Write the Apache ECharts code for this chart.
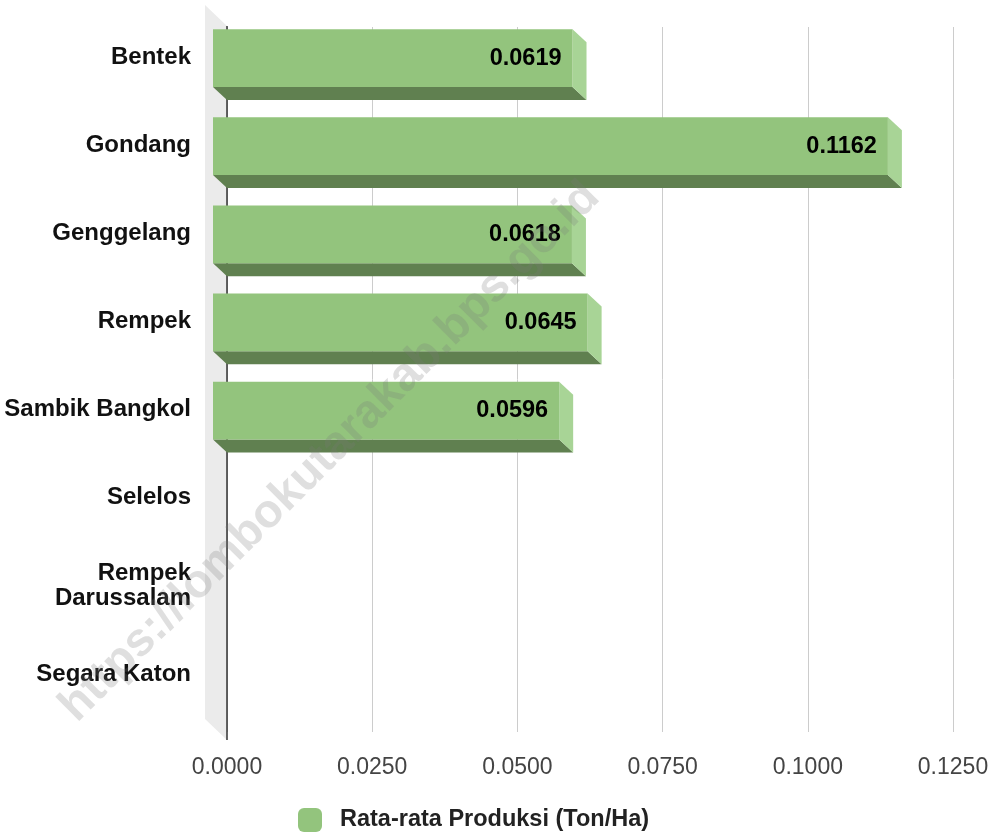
<!DOCTYPE html>
<html>
<head>
<meta charset="utf-8">
<script src="https://cdn.jsdelivr.net/npm/echarts@6/dist/echarts.min.js"></script>
<style>
  html, body { margin: 0; padding: 0; background: #fff; }
  #chart { width: 1000px; height: 833px; }
</style>
</head>
<body>
<div id="chart"></div>
<script>
const categories = ['Bentek', 'Gondang', 'Genggelang', 'Rempek', 'Sambik Bangkol', 'Selelos', 'Rempek Darussalam', 'Segara Katon']
const values = [0.0619, 0.1162, 0.0618, 0.0645, 0.0596, 0, 0, 0]
const seriesName = 'Rata-rata Produksi (Ton/Ha)'
const xTicks = { min: 0, max: 0.125, interval: 0.025 }

const FONT = '"Liberation Sans", Arial, sans-serif'
const DX = 14
const DY = 13
const WALL_DX = 22
const WALL_DY = 21
const WALL_EXTRA = 8

// long names go on two lines, like the original
function wrapName(name) {
  return name.length > 15 ? name.replace(' ', '\n') : name
}

function renderWall(params) {
  const cs = params.coordSys
  const x = cs.x
  const top = cs.y - 1
  const bottom = cs.y + cs.height + WALL_EXTRA
  return {
    type: 'group',
    silent: true,
    children: [
      {
        type: 'polygon',
        shape: { points: [[x - WALL_DX, top - WALL_DY], [x, top], [x, bottom], [x - WALL_DX, bottom - WALL_DY]] },
        style: { fill: '#ebebeb' }
      },
      {
        type: 'line',
        shape: { x1: x, y1: top, x2: x, y2: bottom },
        style: { stroke: '#333', lineWidth: 1.5 }
      }
    ]
  }
}

function renderBar(params, api) {
  const v = api.value(0)
  const idx = api.value(1)
  const base = api.coord([0, idx])
  const cs = params.coordSys
  const children = [
    {
      type: 'text',
      x: cs.x - 36,
      y: base[1] - 14,
      style: {
        text: wrapName(categories[idx]),
        lineHeight: 25,
        align: 'right',
        verticalAlign: 'middle',
        fill: '#111',
        font: 'bold 24px ' + FONT
      }
    }
  ]
  if (v) {
    const end = api.coord([v, idx])
    const h = api.size([0, 1])[1] * 0.655
    const x0 = base[0]
    const x1 = end[0]
    const yt = base[1] - h / 2
    const yb = base[1] + h / 2
    children.push(
      {
        type: 'polygon',
        shape: { points: [[x0 - DX, yb - DY], [x1 - DX, yb - DY], [x1, yb], [x0, yb]] },
        style: { fill: '#608050' }
      },
      {
        type: 'polygon',
        shape: { points: [[x1 - DX, yt - DY], [x1, yt], [x1, yb], [x1 - DX, yb - DY]] },
        style: { fill: '#a8d496' }
      },
      {
        type: 'rect',
        shape: { x: x0 - DX, y: yt - DY, width: x1 - x0, height: h },
        style: { fill: '#93c47d' }
      },
      {
        type: 'text',
        x: x1 - DX - 11,
        y: base[1] - DY,
        style: {
          text: v.toFixed(4),
          align: 'right',
          verticalAlign: 'middle',
          fill: '#000',
          font: 'bold 23.5px ' + FONT
        }
      }
    )
  }
  return { type: 'group', children }
}

const chart = echarts.init(document.getElementById('chart'))

chart.setOption({
  animation: false,
  grid: { left: 227, right: 47, top: 27, bottom: 101 },
  legend: {
    left: 293,
    top: 803,
    icon: 'roundRect',
    itemWidth: 24,
    itemHeight: 24,
    textStyle: {
      fontFamily: FONT,
      fontWeight: 'bold',
      fontSize: 23.5,
      color: '#222',
      padding: [0, 0, 0, 13]
    },
    data: [seriesName]
  },
  xAxis: {
    type: 'value',
    min: xTicks.min,
    max: xTicks.max,
    interval: xTicks.interval,
    axisLine: { show: false },
    axisTick: { show: false },
    splitLine: { lineStyle: { color: '#cccccc', width: 1 } },
    axisLabel: {
      margin: 24,
      color: '#444',
      fontFamily: FONT,
      fontSize: 23,
      formatter: (v) => v.toFixed(4)
    }
  },
  yAxis: {
    type: 'category',
    inverse: true,
    data: categories,
    axisLine: { show: false },
    axisTick: { show: false },
    axisLabel: { show: false }
  },
  graphic: [
    {
      type: 'text',
      x: 330,
      y: 452,
      rotation: Math.PI / 4,
      z: 100,
      silent: true,
      style: {
        text: 'https://lombokutarakab.bps.go.id',
        align: 'center',
        verticalAlign: 'middle',
        fill: 'rgba(120,120,120,0.24)',
        font: 'bold 47px ' + FONT
      }
    }
  ],
  series: [
    {
      type: 'custom',
      name: 'wall',
      z: 1,
      silent: true,
      renderItem: renderWall,
      data: [[0, 0]],
      encode: { x: 0, y: 1 }
    },
    {
      type: 'custom',
      name: seriesName,
      z: 2,
      itemStyle: { color: '#93c47d' },
      renderItem: renderBar,
      data: values.map((v, i) => [v, i]),
      encode: { x: 0, y: 1 }
    }
  ]
})
</script>
</body>
</html>
